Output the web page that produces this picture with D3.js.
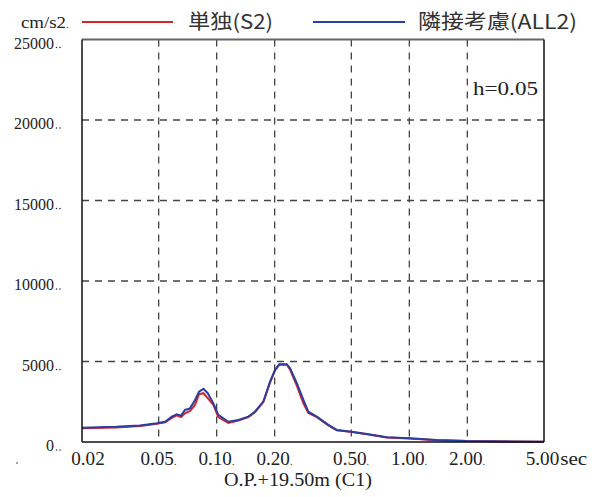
<!DOCTYPE html>
<html><head><meta charset="utf-8">
<script src="https://cdn.jsdelivr.net/npm/d3@7"></script>
<style>html,body{margin:0;padding:0;background:#fff;}svg{display:block;}</style>
</head><body>
<svg id="chart" width="603" height="497"></svg>
<script>
const periods = [0.02,0.03,0.04,0.049,0.054,0.0585,0.0621,0.0653,0.0685,0.0727,0.0772,0.081,0.0853,0.0899,0.0961,0.102,0.115,0.1296,0.146,0.158,0.1747,0.1894,0.2009,0.2115,0.2311,0.2404,0.2606,0.282,0.299,0.331,0.38,0.42,0.503,0.602,0.764,1.0,1.389,1.99,5.0];
const allValues = [890,940,1020,1160,1260,1575,1720,1640,1990,2090,2610,3130,3300,3030,2400,1680,1260,1370,1575,1880,2510,3750,4480,4830,4830,4580,3650,2610,1880,1575,1060,750,640,500,290,230,125,60,20];
const singleValues = [850,900,990,1130,1230,1500,1650,1550,1780,1930,2300,2970,3030,2720,2300,1550,1180,1330,1540,1850,2480,3700,4450,4800,4800,4500,3500,2400,1800,1540,1030,730,620,480,280,220,115,55,20];
const xTicks = [0.02,0.05,0.1,0.2,0.5,1,2,5];
const xTickLabels = ["0.02","0.05","0.10","0.20","0.50","1.00","2.00","5.00"];
const yTicks = [0,5000,10000,15000,20000,25000];
const yTickLabels = ["0","5000","10000","15000","20000","25000"];
const seriesNames = ["単独(S2)","隣接考慮(ALL2)"];
const seriesColors = ["#d8232a","#2a3f9e"];

const svg = d3.select("#chart");
const L=82,R=544,T=39.5,B=442;
const x = d3.scaleLog().domain([0.02,5]).range([L,R]);
const y = d3.scaleLinear().domain([0,25000]).range([B,T]);
const serif = "'Liberation Serif','Times New Roman',serif";
const cjk = "'Noto Sans CJK JP','Liberation Serif',serif";

function txt(xp, yp, s, size, len, dots, fam){
  const t = svg.append("text").attr("x",xp).attr("y",yp)
    .attr("font-family",fam||serif).attr("font-size",size).attr("fill","#222");
  const m = t.append("tspan").text(s);
  if(len) m.attr("textLength",len).attr("lengthAdjust","spacingAndGlyphs");
  if(dots) t.append("tspan").attr("font-size",10).text(dots);
  return t;
}
function pt(cx, cy){ svg.append("circle").attr("cx",cx).attr("cy",cy).attr("r",0.8).attr("fill","#333"); }

// grid
const g = svg.append("g");
g.selectAll("line.vg").data(xTicks.slice(1,-1)).enter().append("line")
 .attr("x1",d=>x(d)).attr("x2",d=>x(d)).attr("y1",T).attr("y2",B)
 .attr("stroke","#444").attr("stroke-width",1.3).attr("stroke-dasharray","7,6");
g.selectAll("line.hg").data(yTicks.slice(1,-1)).enter().append("line")
 .attr("x1",L).attr("x2",R).attr("y1",d=>y(d)).attr("y2",d=>y(d))
 .attr("stroke","#444").attr("stroke-width",1.3).attr("stroke-dasharray","7,6");

// curves
const line = d3.line().x((d,i)=>x(periods[i])).y(d=>y(d));
svg.append("path").datum(singleValues).attr("d",line).attr("fill","none")
 .attr("stroke",seriesColors[0]).attr("stroke-width",2);
svg.append("path").datum(allValues).attr("d",line).attr("fill","none")
 .attr("stroke",seriesColors[1]).attr("stroke-width",2);

// frame
svg.append("line").attr("x1",L).attr("x2",R).attr("y1",T).attr("y2",T).attr("stroke","#666").attr("stroke-width",2);
svg.append("line").attr("x1",L).attr("x2",R).attr("y1",B).attr("y2",B).attr("stroke","#111").attr("stroke-width",1.5);
svg.append("line").attr("x1",L).attr("x2",L).attr("y1",T).attr("y2",B).attr("stroke","#111").attr("stroke-width",1.5);
svg.append("line").attr("x1",R).attr("x2",R).attr("y1",T).attr("y2",B).attr("stroke","#111").attr("stroke-width",1.5);

// y labels: digits end at ~54, then two small dots
yTicks.forEach((v,i)=>{
  const w = yTickLabels[i].length*8;
  svg.append("text").attr("x",54-w).attr("y",y(v)+9)
    .attr("font-family",serif).attr("font-size",17.5).attr("fill","#222")
    .attr("textLength",w).attr("lengthAdjust","spacingAndGlyphs").text(yTickLabels[i]);
  pt(56.5, y(v)+8); pt(60, y(v)+8);
});
// x labels
xTicks.forEach((v,i)=>{
  const cx = i===0 ? 88 : x(v)-1.5;
  const last = i===xTicks.length-1;
  const t = txt(cx-16.75, 465, xTickLabels[i], 18, 33.5, (i>0 && !last) ? "." : null);
  if(last) t.append("tspan").attr("dx",1).attr("textLength",27).attr("lengthAdjust","spacingAndGlyphs").text("sec");
});
pt(17, 463);

// x title
txt(224, 486, "O.P.+19.50m (C1)", 18, 148, null);

// unit
txt(21, 28, "cm/s2", 17, 45, ".");

// legend
svg.append("line").attr("x1",82).attr("x2",173).attr("y1",22).attr("y2",22).attr("stroke",seriesColors[0]).attr("stroke-width",2);
txt(188, 29, seriesNames[0], 20, 85, null, cjk).attr("fill","#333");
svg.append("line").attr("x1",313).attr("x2",405).attr("y1",22).attr("y2",22).attr("stroke",seriesColors[1]).attr("stroke-width",2);
txt(418, 29, seriesNames[1], 20, 159, null, cjk).attr("fill","#333");

// h label
txt(473, 95, "h=0.05", 19, 65, null);
</script>
</body></html>
